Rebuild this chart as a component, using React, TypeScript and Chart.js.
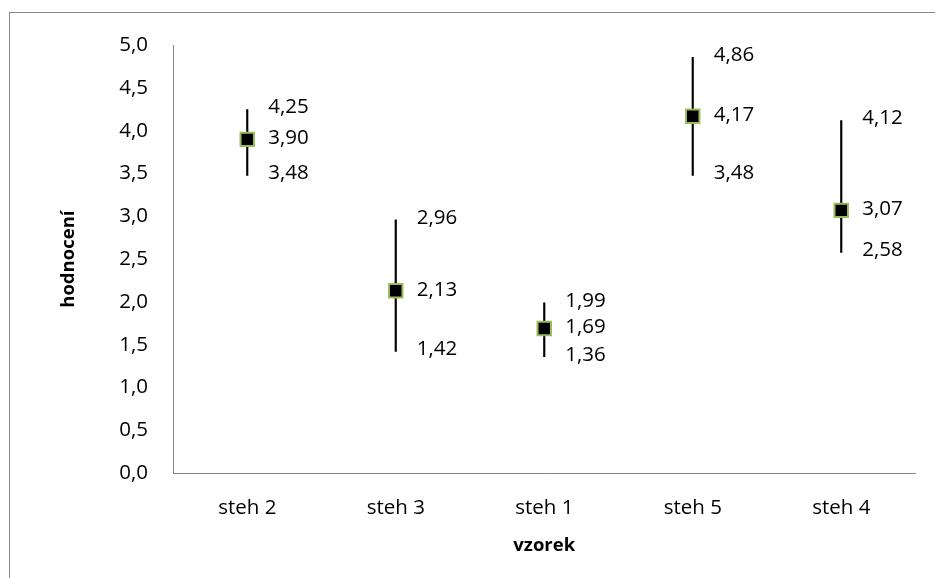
import React, { useEffect, useRef } from "react";
import { Chart, registerables } from "chart.js";

Chart.register(...registerables);

const categories = ["steh 2", "steh 3", "steh 1", "steh 5", "steh 4"];
const highValues = [4.25, 2.96, 1.99, 4.86, 4.12];
const meanValues = [3.9, 2.13, 1.69, 4.17, 3.07];
const lowValues = [3.48, 1.42, 1.36, 3.48, 2.58];

const FONT = "'Open Sans', 'Noto Sans', sans-serif";
const fmt = (v: number, d: number) => v.toFixed(d).replace(".", ",");

const labelPlugin = {
  id: "hlLabels",
  afterDatasetsDraw(chart: any) {
    const ctx = chart.ctx;
    const xs = chart.scales.x;
    const ys = chart.scales.y;
    ctx.save();
    ctx.fillStyle = "#000000";
    ctx.font = `20.5px ${FONT}`;
    ctx.textAlign = "left";
    ctx.textBaseline = "middle";
    categories.forEach((_, i) => {
      const x = xs.getPixelForValue(i) + 21;
      ctx.fillText(fmt(highValues[i], 2), x, ys.getPixelForValue(highValues[i]) - 2);
      ctx.fillText(fmt(meanValues[i], 2), x, ys.getPixelForValue(meanValues[i]) - 1);
      ctx.fillText(fmt(lowValues[i], 2), x, ys.getPixelForValue(lowValues[i]) - 2);
    });
    ctx.restore();
  },
};

export default function App() {
  const ref = useRef<HTMLCanvasElement | null>(null);
  useEffect(() => {
    document.body.style.overflow = "hidden";
    if (!ref.current) return;
    const chart = new Chart(ref.current, {
      type: "bar",
      data: {
        labels: categories,
        datasets: [
          {
            type: "line",
            label: "průměr",
            data: meanValues,
            showLine: false,
            pointStyle: "rect",
            pointRadius: 9.5,
            pointBackgroundColor: "#000000",
            pointBorderColor: "#9BBB59",
            pointBorderWidth: 2,
            order: 1,
          } as any,
          {
            type: "bar",
            label: "rozsah",
            data: categories.map((_, i) => [lowValues[i], highValues[i]]),
            backgroundColor: "#000000",
            borderWidth: 0,
            barThickness: 1.5,
            order: 2,
          } as any,
        ],
      },
      options: {
        responsive: false,
        animation: false,
        layout: { padding: { left: 0, right: 5, top: 37, bottom: 0 } },
        plugins: {
          legend: { display: false },
          tooltip: { enabled: false },
        },
        scales: {
          x: {
            grid: { display: false, drawTicks: false },
            border: { display: true, color: "#868686", width: 1 },
            ticks: { color: "#000000", font: { family: FONT, size: 20.5 }, padding: 23 },
            title: {
              display: true,
              text: "vzorek",
              color: "#000000",
              font: { family: FONT, size: 18.5, weight: "bold" },
              padding: { top: 13, bottom: 13 },
            },
            afterFit: (s: any) => {
              s.height = 97;
            },
          },
          y: {
            min: 0,
            max: 5,
            grid: { display: false, drawTicks: false },
            border: { display: true, color: "#868686", width: 1 },
            ticks: {
              stepSize: 0.5,
              color: "#000000",
              font: { family: FONT, size: 20.5 },
              padding: 25,
              callback: (v: any) => fmt(Number(v), 1),
            },
            title: {
              display: true,
              text: "hodnocení",
              color: "#000000",
              font: { family: FONT, size: 18.5, weight: "bold" },
              padding: { top: 50, bottom: 50 },
            },
            afterFit: (s: any) => {
              s.width = 165;
            },
          },
        },
      },
      plugins: [labelPlugin],
    });
    return () => chart.destroy();
  }, []);
  return (
    <div style={{ position: "relative" }}>
      <div
        style={{
          position: "fixed",
          left: 9,
          top: 12,
          width: 2000,
          height: 2000,
          borderTop: "1px solid #888888",
          borderLeft: "1px solid #888888",
          pointerEvents: "none",
        }}
      />
      <canvas ref={ref} width={919} height={562} style={{ display: "block" }} />
    </div>
  );
}
